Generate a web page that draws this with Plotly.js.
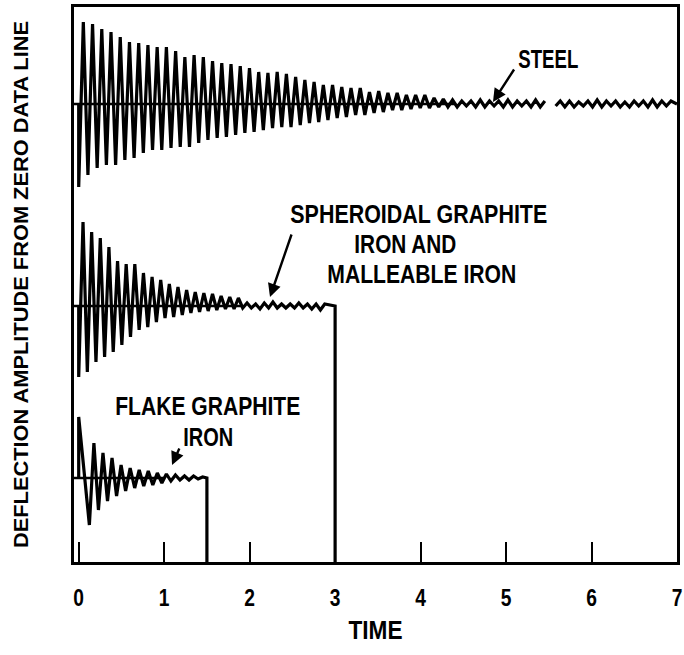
<!DOCTYPE html>
<html>
<head>
<meta charset="utf-8">
<script src="https://cdn.plot.ly/plotly-3.0.1.min.js"></script>
<style>
  html, body { margin: 0; padding: 0; background: #ffffff; }
  #chart { width: 684px; height: 655px; }
</style>
</head>
<body>
<div id="chart"></div>
<script>
// ---- Data (deflection in chart units, time in axis units) ----
const timeTicks = [0, 1, 2, 3, 4, 5, 6, 7];
const timeTickLabels = ['0', '1', '2', '3', '4', '5', '6', '7'];

// Zero data lines (vertical position of each record)
const steelZero = 458;
const spheroidalZero = 256;
const flakeZero = 84;

// Oscillation period of each record (time units) and first trough time
const steelPeriod = 0.108;
const steelStart = 0.0;
const spheroidalPeriod = 0.101;
const spheroidalStart = 0.0;
const flakePeriod = 0.106;
const flakeStart = 0.125;

// STEEL: trough / crest amplitudes per cycle
const steelTroughs = [83, 71, 64, 61, 61, 56, 54, 49, 46, 46, 44, 43, 43, 39, 36, 34, 33, 31, 29, 28,
                      26, 24, 23, 23, 21, 19, 18, 16, 14, 13, 11, 11, 9, 8, 6, 6, 5, 4, 4, 3, 3,
                      3, 2, 3, 3, 2, 3, 3, 2, 3, 3];
const steelCrests  = [82, 80, 75, 72, 67, 62, 61, 59, 57, 57, 53, 47, 49, 47, 43, 41, 40, 38, 36, 32,
                      31, 32, 30, 27, 24, 22, 19, 19, 17, 16, 16, 12, 13, 11, 11, 9, 9, 9, 6, 5, 4,
                      3, 3, 4, 3, 3, 4, 3, 3, 4, 3];
// STEEL after the break in the record
const steelLateStart = 5.58;
const steelLateTroughs = [2, 3, 3, 2, 3, 3, 2, 3, 3, 2, 3, 3, 2];
const steelLateCrests  = [3, 3, 2, 3, 4, 3, 3, 2, 3, 3, 4, 3, 3];
const steelEnd = 7.0;

// SPHEROIDAL GRAPHITE IRON AND MALLEABLE IRON
const spheroidalTroughs = [71, 66, 56, 51, 46, 39, 31, 24, 21, 16, 12, 11, 9, 7, 6, 5, 4, 3, 3,
                           2, 2, 3, 2, 2, 2, 2, 2, 3, 4];
const spheroidalCrests  = [84, 74, 68, 59, 45, 42, 42, 33, 29, 26, 22, 19, 16, 14, 13, 12, 10, 9, 8,
                           3, 2, 3, 4, 2, 2, 3, 2, 2, 2];
const spheroidalEnd = 3.0;

// FLAKE GRAPHITE IRON
const flakeInitial = 61;
const flakeTroughs = [47, 32, 23, 18, 13, 10, 8, 7, 5, 3, 2, 2, 1];
const flakeCrests  = [35, 25, 20, 13, 10, 8, 7, 5, 4, 3, 2, 2, 1];
const flakeEnd = 1.5;

// ---- Build the traces from the data ----
function zigzag(t0, period, troughs, crests, zero) {
  const x = [], y = [];
  for (let i = 0; i < troughs.length; i++) {
    x.push(t0 + i * period);            y.push(zero - troughs[i]);
    x.push(t0 + (i + 0.5) * period);    y.push(zero + crests[i]);
  }
  return { x, y };
}

const LINE = { color: '#000', width: 3.2 };
const traces = [];

// zero data lines
[[steelZero, 4.4], [spheroidalZero, 1.9], [flakeZero, 1.0]].forEach(([z, tEnd]) => {
  traces.push({ x: [-0.06, tEnd], y: [z, z], mode: 'lines', line: { color: '#000', width: 2.4 },
                hoverinfo: 'skip', showlegend: false });
});

// steel
{
  const a = zigzag(steelStart, steelPeriod, steelTroughs, steelCrests, steelZero);
  const b = zigzag(steelLateStart, steelPeriod, steelLateTroughs, steelLateCrests, steelZero);
  const x = [steelStart].concat(a.x, [null], b.x, [steelEnd]);
  const y = [steelZero].concat(a.y, [null], b.y, [steelZero]);
  traces.push({ x, y, mode: 'lines', line: LINE, connectgaps: false, name: 'Steel', showlegend: false });
}
// spheroidal
{
  const a = zigzag(spheroidalStart, spheroidalPeriod, spheroidalTroughs, spheroidalCrests, spheroidalZero);
  const x = [spheroidalStart].concat(a.x, [spheroidalEnd, spheroidalEnd]);
  const y = [spheroidalZero].concat(a.y, [spheroidalZero, 0]);
  traces.push({ x, y, mode: 'lines', line: LINE, name: 'Spheroidal', showlegend: false });
}
// flake
{
  const a = zigzag(flakeStart, flakePeriod, flakeTroughs, flakeCrests, flakeZero);
  const x = [0, 0].concat(a.x, [flakeEnd, flakeEnd]);
  const y = [flakeZero, flakeZero + flakeInitial].concat(a.y, [flakeZero, 0]);
  traces.push({ x, y, mode: 'lines', line: LINE, name: 'Flake', showlegend: false });
}

const FONT = 'Liberation Sans, Arial, sans-serif';
// lettering in the original is condensed: widths (px) each label is drawn to
const labelWidths = {
  'STEEL': 60, 'SPHEROIDAL GRAPHITE': 257, 'IRON AND': 102, 'MALLEABLE IRON': 189,
  'FLAKE GRAPHITE': 185, 'IRON': 50, 'TIME': 54,
  'DEFLECTION AMPLITUDE FROM ZERO DATA LINE': 527
};

function label(text, x, y) {
  return { text, x, y, xref: 'x', yref: 'y', showarrow: false,
           font: { family: FONT, size: 25, weight: 700, color: '#000' } };
}
function arrow(x, y, ax, ay) {
  return { text: '', x, y, ax, ay, xref: 'x', yref: 'y', axref: 'x', ayref: 'y',
           showarrow: true, arrowhead: 2, arrowsize: 1.1, arrowwidth: 2.4, arrowcolor: '#000' };
}

const layout = {
  width: 684, height: 655,
  margin: { l: 74, r: 7, t: 7, b: 93 },
  paper_bgcolor: '#fff', plot_bgcolor: '#fff',
  showlegend: false,
  xaxis: {
    range: [-0.055, 7.0],
    tickvals: timeTicks, ticktext: timeTickLabels,
    ticks: 'inside', ticklen: 20, tickwidth: 2, tickcolor: '#000',
    ticklabelstandoff: 12, ticklabeloverflow: 'allow',
    tickfont: { family: FONT, size: 24, weight: 700, color: '#000' },
    showline: true, mirror: true, linewidth: 3, linecolor: '#000',
    showgrid: false, zeroline: false, automargin: false,
    title: { text: 'TIME', font: { family: FONT, size: 25, weight: 700, color: '#000' }, standoff: 12 }
  },
  yaxis: {
    range: [0, 555],
    showticklabels: false, ticks: '',
    showline: true, mirror: true, linewidth: 3, linecolor: '#000',
    showgrid: false, zeroline: false, automargin: false,
    title: { text: 'DEFLECTION AMPLITUDE FROM ZERO DATA LINE',
             font: { family: FONT, size: 21, weight: 700, color: '#000' }, standoff: 37 }
  },
  annotations: [
    label('STEEL', 5.491, 503),
    arrow(4.847, 460, 5.105, 494),
    label('SPHEROIDAL GRAPHITE', 3.976, 348),
    label('IRON AND', 3.829, 318),
    label('MALLEABLE IRON', 4.022, 288),
    arrow(2.238, 265, 2.496, 329),
    label('FLAKE GRAPHITE', 1.507, 156),
    label('IRON', 1.513, 125),
    arrow(1.092, 97, 1.185, 115)
  ]
};

Plotly.newPlot('chart', traces, layout, { staticPlot: true, displayModeBar: false }).then(gd => {
  // condense the lettering to match the original hand-lettered widths
  try {
    const fit = (el, w) => {
      el.setAttribute('textLength', w);
      el.setAttribute('lengthAdjust', 'spacingAndGlyphs');
    };
    gd.querySelectorAll('text').forEach(el => {
      const t = (el.textContent || '').trim();
      if (labelWidths[t]) fit(el, labelWidths[t]);
    });
    gd.querySelectorAll('.xtick text').forEach(el => fit(el, el.getComputedTextLength() * 0.8));
  } catch (e) { /* keep default lettering */ }
});
</script>
</body>
</html>
